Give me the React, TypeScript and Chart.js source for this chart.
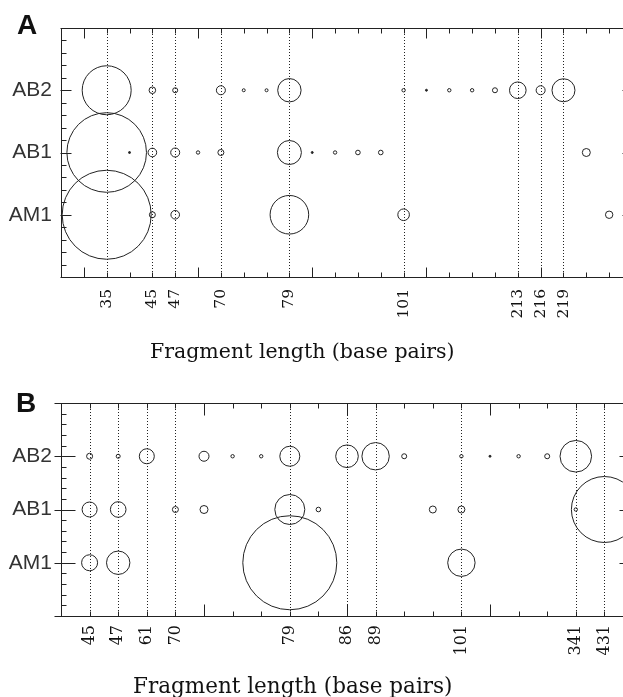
import React, { useEffect, useRef } from "react";
import { Chart, registerables } from "chart.js";

Chart.register(...registerables);

// ---------- shared ----------
const rowLabels = ["AM1", "AB1", "AB2"];
const axisTitle = "Fragment length (base pairs)";

// ---------- panel A ----------
const aTickPositions = [2, 4, 5, 7, 10, 15, 20, 21, 22];
const aTickLabels = ["35", "45", "47", "70", "79", "101", "213", "216", "219"];
const aAM1X = [2, 4, 5, 10, 15, 24];
const aAM1R = [44.5, 3, 4.3, 19.3, 5.8, 3.7];
const aAB1X = [2, 3, 4, 5, 6, 7, 10, 11, 12, 13, 14, 23];
const aAB1R = [39.8, 1, 4.3, 4.5, 1.7, 3, 12, 1, 1.7, 2.3, 2.3, 4];
const aAB2X = [2, 4, 5, 7, 8, 9, 10, 15, 16, 17, 18, 19, 20, 21, 22];
const aAB2R = [24.5, 3.3, 2.5, 4.5, 1.5, 1.5, 11.7, 1.7, 1, 1.7, 1.7, 2.5, 8.3, 4.5, 11.5];

// ---------- panel B ----------
const bTickPositions = [1, 2, 3, 4, 8, 10, 11, 14, 18, 19];
const bTickLabels = ["45", "47", "61", "70", "79", "86", "89", "101", "341", "431"];
const bAM1X = [1, 2, 8, 14];
const bAM1R = [8, 11.7, 47, 13.7];
const bAB1X = [1, 2, 4, 5, 8, 9, 13, 14, 18, 19];
const bAB1R = [7.5, 7.8, 3, 4, 15, 2.3, 3.5, 3.5, 1.7, 33];
const bAB2X = [1, 2, 3, 5, 6, 7, 8, 10, 11, 12, 14, 15, 16, 17, 18];
const bAB2R = [3, 2, 7.5, 5, 1.7, 1.7, 10, 11.3, 13.7, 2.5, 1.7, 1, 1.7, 2.5, 15.8];

const INK = "#222";

const framePlugin = {
  id: "frame",
  beforeDatasetsDraw(chart: any) {
    const { ctx, chartArea: ca, scales } = chart;
    const x = scales.x;
    ctx.save();
    ctx.strokeStyle = "#222";
    ctx.lineWidth = 1;
    ctx.setLineDash([1, 2]);
    for (const t of x.ticks) {
      const px = Math.round(x.getPixelForValue(t.value)) + 0.5;
      ctx.beginPath();
      ctx.moveTo(px, ca.top);
      ctx.lineTo(px, ca.bottom);
      ctx.stroke();
    }
    ctx.restore();
  },
  afterDatasetsDraw(chart: any, _args: any, opts: any) {
    const { ctx, chartArea: ca, scales } = chart;
    const x = scales.x;
    const y = scales.y;
    const L = Math.round(ca.left) + 0.5;
    const R = Math.round(ca.right) + 0.5;
    const T = Math.round(ca.top) + 0.5;
    const B = Math.round(ca.bottom) + 0.5;
    ctx.save();
    ctx.strokeStyle = INK;
    ctx.lineWidth = 1;
    ctx.setLineDash([]);
    const line = (x1: number, y1: number, x2: number, y2: number) => {
      ctx.beginPath();
      ctx.moveTo(x1, y1);
      ctx.lineTo(x2, y2);
      ctx.stroke();
    };
    ctx.strokeRect(L, T, R - L, B - T);
    for (let i = Math.ceil(x.min); i <= Math.floor(x.max); i++) {
      const px = Math.round(x.getPixelForValue(i)) + 0.5;
      const len = (i - opts.majorOffset) % 5 === 0 ? opts.xMajor : opts.xMinor;
      line(px, B, px, B - len);
      line(px, T, px, T + len);
    }
    for (let k = 0; k <= 20; k++) {
      const v = k * 0.2;
      const py = Math.round(y.getPixelForValue(v)) + 0.5;
      const major = k % 5 === 0;
      const inLen = major ? opts.yMajorIn : opts.yMinor;
      const outLen = major ? opts.yMajorOut : 0;
      line(L - outLen, py, L + inLen, py);
      line(R + outLen, py, R - inLen, py);
    }
    ctx.restore();
  },
};

type PanelProps = {
  width: number;
  height: number;
  xMax: number;
  padRight: number;
  xAxisHeight: number;
  tickPositions: number[];
  tickLabels: string[];
  series: { x: number[]; r: number[] }[];
  tickFont: number;
  tickPad: number;
  frame: any;
};

function Panel(p: PanelProps) {
  const ref = useRef<HTMLCanvasElement | null>(null);
  useEffect(() => {
    if (!ref.current) return;
    const datasets = p.series.map((s, idx) => ({
      label: rowLabels[idx],
      data: s.x.map((xv, i) => ({ x: xv, y: idx + 1, r: s.r[i] })),
      borderColor: INK,
      borderWidth: 1,
      backgroundColor: (c: any) => (c.raw && c.raw.r <= 1.2 ? INK : "rgba(0,0,0,0)"),
    }));
    const chart = new Chart(ref.current, {
      type: "bubble",
      data: { datasets },
      plugins: [framePlugin],
      options: {
        responsive: false,
        animation: false,
        events: [],
        layout: { autoPadding: false, padding: { top: 28, right: p.padRight, left: 0, bottom: 0 } },
        plugins: {
          legend: { display: false },
          tooltip: { enabled: false },
          frame: p.frame,
        } as any,
        scales: {
          x: {
            type: "linear",
            min: 0,
            max: p.xMax,
            afterBuildTicks: (s: any) => {
              s.ticks = p.tickPositions.map((v) => ({ value: v }));
            },
            afterFit: (s: any) => {
              s.height = p.xAxisHeight;
            },
            ticks: {
              autoSkip: false,
              maxRotation: 90,
              minRotation: 90,
              padding: p.tickPad,
              color: "#111",
              font: { family: "'DejaVu Serif', serif", size: p.tickFont },
              callback: (_v: any, i: number) => p.tickLabels[i],
            },
            grid: { display: false, drawTicks: false },
            border: { display: false },
          },
          y: {
            type: "linear",
            min: 0,
            max: 4,
            afterBuildTicks: (s: any) => {
              s.ticks = [1, 2, 3].map((v) => ({ value: v }));
            },
            afterFit: (s: any) => {
              s.width = 61;
            },
            ticks: {
              padding: 9,
              color: "#333",
              font: { family: "'Liberation Sans', Arial, sans-serif", size: 21 },
              callback: (v: any) => rowLabels[Number(v) - 1],
            },
            grid: { display: false, drawTicks: false },
            border: { display: false },
          },
        },
      } as any,
    });
    return () => chart.destroy();
  }, []);
  return <canvas ref={ref} width={p.width} height={p.height} style={{ display: "block" }} />;
}

const letterStyle: React.CSSProperties = {
  position: "absolute",
  fontFamily: "'Liberation Sans', Arial, sans-serif",
  fontWeight: "bold",
  fontSize: 28,
  lineHeight: "28px",
  color: "#111",
};

export default function App() {
  return (
    <div
      style={{
        position: "absolute",
        left: 0,
        top: 0,
        width: 623,
        height: 697,
        overflow: "hidden",
        background: "#fff",
      }}
    >
      <div style={{ position: "absolute", left: 0, top: 0, width: 640 }}>
        <Panel
          width={640}
          height={370}
          xMax={25}
          padRight={8}
          xAxisHeight={93}
          tickPositions={aTickPositions}
          tickLabels={aTickLabels}
          series={[
            { x: aAM1X, r: aAM1R },
            { x: aAB1X, r: aAB1R },
            { x: aAB2X, r: aAB2R },
          ]}
          tickFont={15.5}
          tickPad={12}
          frame={{ majorOffset: 1, xMajor: 10, xMinor: 5, yMajorIn: 10, yMajorOut: 1, yMinor: 5 }}
        />
      </div>
      <div style={{ position: "absolute", left: 0, top: 375, width: 640 }}>
        <Panel
          width={640}
          height={322}
          xMax={20}
          padRight={7}
          xAxisHeight={81}
          tickPositions={bTickPositions}
          tickLabels={bTickLabels}
          series={[
            { x: bAM1X, r: bAM1R },
            { x: bAB1X, r: bAB1R },
            { x: bAB2X, r: bAB2R },
          ]}
          tickFont={16}
          tickPad={9}
          frame={{ majorOffset: 0, xMajor: 12, xMinor: 5, yMajorIn: 14, yMajorOut: 7, yMinor: 5 }}
        />
      </div>
      <div style={{ ...letterStyle, left: 17, top: 11 }}>A</div>
      <div style={{ ...letterStyle, left: 16, top: 389 }}>B</div>
      <div
        style={{
          position: "absolute",
          left: 150,
          top: 341,
          fontFamily: "'DejaVu Serif', serif",
          fontSize: 20.5,
          lineHeight: "20.5px",
          color: "#111",
          whiteSpace: "nowrap",
        }}
      >
        {axisTitle}
      </div>
      <div
        style={{
          position: "absolute",
          left: 133,
          top: 675,
          fontFamily: "'DejaVu Serif', serif",
          fontSize: 21.5,
          lineHeight: "21.5px",
          color: "#111",
          whiteSpace: "nowrap",
        }}
      >
        {axisTitle}
      </div>
    </div>
  );
}
